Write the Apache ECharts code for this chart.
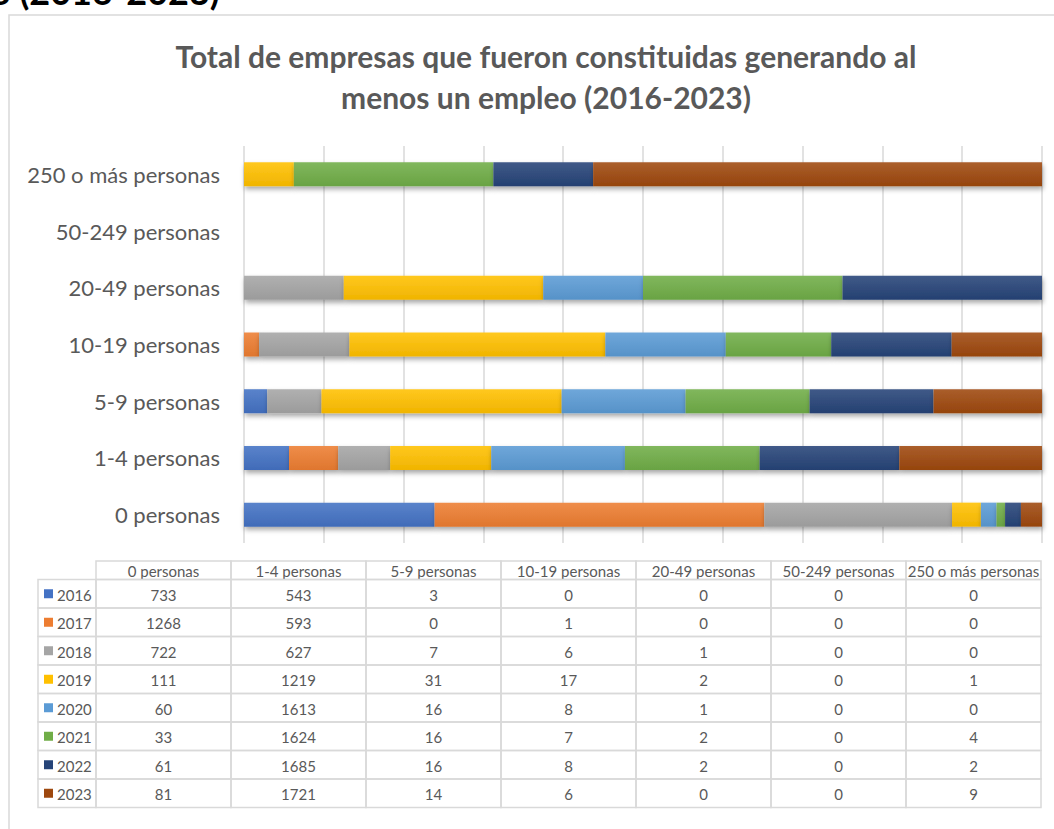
<!DOCTYPE html>
<html><head><meta charset="utf-8">
<script src="https://cdn.jsdelivr.net/npm/echarts@6/dist/echarts.min.js"></script>
<style>html,body{margin:0;padding:0;background:#fff;overflow:hidden}#c{width:1054px;height:829px}</style>
</head><body><div id="c"></div>
<script>
// ---- data ----
const categories = ['0 personas','1-4 personas','5-9 personas','10-19 personas','20-49 personas','50-249 personas','250 o más personas'];
const years = ['2016','2017','2018','2019','2020','2021','2022','2023'];
const v2016 = [733, 543, 3, 0, 0, 0, 0];
const v2017 = [1268, 593, 0, 1, 0, 0, 0];
const v2018 = [722, 627, 7, 6, 1, 0, 0];
const v2019 = [111, 1219, 31, 17, 2, 0, 1];
const v2020 = [60, 1613, 16, 8, 1, 0, 0];
const v2021 = [33, 1624, 16, 7, 2, 0, 4];
const v2022 = [61, 1685, 16, 8, 2, 0, 2];
const v2023 = [81, 1721, 14, 6, 0, 0, 9];
const seriesValues = [v2016, v2017, v2018, v2019, v2020, v2021, v2022, v2023];
const colors = ['#4472C4','#ED7D31','#A5A5A5','#FFC000','#5B9BD5','#70AD47','#264478','#9E480E'];
const titleText = 'Total de empresas que fueron constituidas generando al\nmenos un empleo (2016-2023)';

// ---- helpers ----
function mix(hex, t){
  const n = parseInt(hex.slice(1),16);
  let r=(n>>16)&255,g=(n>>8)&255,b=n&255;
  r=Math.round(r+(255-r)*t);g=Math.round(g+(255-g)*t);b=Math.round(b+(255-b)*t);
  return 'rgb('+r+','+g+','+b+')';
}
function dark(hex, t){
  const n = parseInt(hex.slice(1),16);
  let r=(n>>16)&255,g=(n>>8)&255,b=n&255;
  return 'rgb('+Math.round(r*(1-t))+','+Math.round(g*(1-t))+','+Math.round(b*(1-t))+')';
}
const totals = categories.map((c,j)=>seriesValues.reduce((s,arr)=>s+arr[j],0));
const pct = seriesValues.map(arr=>arr.map((v,j)=>totals[j]?v/totals[j]*100:0));

const textColor = '#595959';
const font = 'Lato, "Liberation Sans", sans-serif';

// ---- table (graphic) ----
const gfx = [];
gfx.push({type:'rect', z:0, shape:{x:9,y:15,width:1100,height:900}, style:{fill:'none',stroke:'#d9d9d9',lineWidth:1.5}});
gfx.push({type:'text', z:10, style:{text:'o (2016-2023)', x:-10, y:-9, font:'bold 36px '+font, fill:'#000', verticalAlign:'middle', align:'left'}});

const rowLabelX = 38, colX0 = 96, colW = 135, headTop = 561, headH = 18.5, rowH = 28.5;
const bstyle = {fill:'none', stroke:'#d9d9d9', lineWidth:1.5};
const tFont = '15px '+font;
categories.forEach((c,j)=>{
  const x = colX0 + j*colW;
  gfx.push({type:'rect', shape:{x:x,y:headTop,width:colW,height:headH}, style:bstyle});
  gfx.push({type:'text', style:{text:c, x:x+colW/2, y:headTop+headH/2+1, align:'center', verticalAlign:'middle', font:tFont, fill:textColor}});
});
years.forEach((yr,i)=>{
  const y = headTop + headH + i*rowH;
  gfx.push({type:'rect', shape:{x:rowLabelX,y:y,width:colX0-rowLabelX,height:rowH}, style:bstyle});
  gfx.push({type:'rect', shape:{x:rowLabelX+6,y:y+rowH/2-4.5,width:9,height:9}, style:{fill:colors[i]}});
  gfx.push({type:'text', style:{text:yr, x:rowLabelX+19, y:y+rowH/2+1, align:'left', verticalAlign:'middle', font:tFont, fill:textColor}});
  seriesValues[i].forEach((v,j)=>{
    const x = colX0 + j*colW;
    gfx.push({type:'rect', shape:{x:x,y:y,width:colW,height:rowH}, style:bstyle});
    gfx.push({type:'text', style:{text:String(v), x:x+colW/2, y:y+rowH/2+1, align:'center', verticalAlign:'middle', font:tFont, fill:textColor}});
  });
});

const chart = echarts.init(document.getElementById('c'), null, {renderer:'svg'});
chart.setOption({
  backgroundColor:'#fff',
  animation:false,
  title:{
    text:titleText, left:541, top:30, textAlign:'center',
    textStyle:{fontFamily:font, fontWeight:'bold', fontSize:30, color:textColor, lineHeight:41}
  },
  grid:{left:244, right:12, top:146, bottom:286, containLabel:false},
  xAxis:{type:'value', min:0, max:100, interval:10,
    axisLabel:{show:false}, axisLine:{show:false}, axisTick:{show:false},
    splitLine:{show:true, lineStyle:{color:'#d9d9d9', width:1.5}}},
  yAxis:{type:'category', data:categories,
    axisLine:{show:false}, axisTick:{show:false},
    axisLabel:{color:textColor, fontFamily:font, fontSize:22, margin:24}},
  series: years.map((yr,i)=>({
    name:yr, type:'bar', stack:'total', barWidth:24,
    data:pct[i],
    itemStyle:{
      color:{type:'linear',x:0,y:0,x2:0,y2:1,colorStops:[{offset:0,color:mix(colors[i],0.12)},{offset:1,color:dark(colors[i],0.06)}]},
      shadowColor:'rgba(0,0,0,0.35)', shadowBlur:5, shadowOffsetX:1, shadowOffsetY:3
    }
  })),
  graphic: gfx
});
</script></body></html>
